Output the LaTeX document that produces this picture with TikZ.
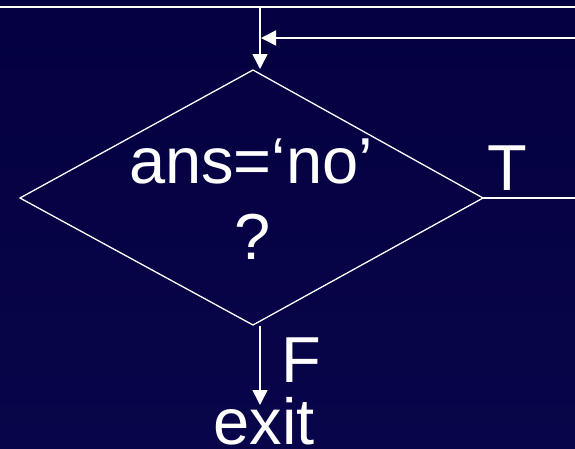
\documentclass[tikz,border=0pt]{standalone}
\usepackage{fontspec}
\setmainfont{Liberation Sans}
\usetikzlibrary{arrows.meta}
\definecolor{bgtop}{RGB}{4,0,64}
\definecolor{bgbot}{RGB}{8,5,74}
\tikzset{
  wire/.style={draw=white, line width=1.6pt},
  arr/.style={wire, -{Triangle[length=15pt,width=15pt]}},
  lbl/.style={text=white, inner sep=0pt, anchor=base, font=\fontsize{65}{78}\selectfont},
  dia/.style={draw=white, line width=1.3pt, line join=miter}
}
\begin{document}
\begin{tikzpicture}[x=1pt,y=-1pt]
\useasboundingbox (0,0) rectangle (575,448);
\shade[top color=bgtop, bottom color=bgbot] (0,0) rectangle (575,448);
% coordinates
\coordinate (tl) at (0,7);
\coordinate (tr) at (575,7);
\coordinate (vtop) at (260,6);
\coordinate (in) at (260,69);
\coordinate (lr) at (575,38);
\coordinate (join) at (261,38);
\coordinate (dt) at (253,70);
\coordinate (dl) at (20,198);
\coordinate (dr) at (483,198);
\coordinate (db) at (253,325);
\coordinate (tend) at (575,198);
\coordinate (fstart) at (260,326);
\coordinate (fend) at (260,405);
% lines
\draw[wire] (tl) -- (tr);
\draw[arr] (vtop) -- (in);
\draw[arr] (lr) -- (join);
\draw[dia] (dt) -- (dr) -- (db) -- (dl) -- cycle;
\draw[wire] (dr) -- (tend);
\draw[arr] (fstart) -- (fend);
% texts
\node[lbl] (q1) at (251,183) {ans=‘no’};
\node[lbl] (q2) at (252.5,259) {?};
\node[lbl, anchor=base west] (t) at (487,190) {T};
\node[lbl, anchor=base west] (f) at (281,382) {F};
\node[lbl] (exit) at (264,444) {exit};
\end{tikzpicture}
\end{document}
